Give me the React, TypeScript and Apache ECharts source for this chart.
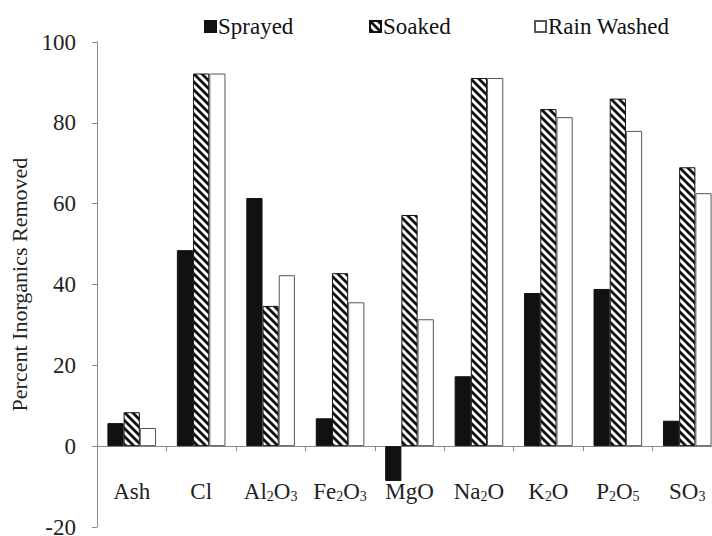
import React, { useEffect, useRef } from "react";
import * as echarts from "echarts";

const categories = ["Ash", "Cl", "Al2O3", "Fe2O3", "MgO", "Na2O", "K2O", "P2O5", "SO3"];
const sprayed = [5.7, 48.5, 61.4, 6.9, -8.6, 17.3, 37.9, 38.9, 6.3];
const soaked = [8.4, 92.2, 34.7, 42.8, 57.2, 91.1, 83.4, 86.0, 69.0];
const rainWashed = [4.5, 92.2, 42.3, 35.6, 31.4, 91.1, 81.4, 78.0, 62.6];
const yTicks = { min: -20, max: 100, interval: 20 };

const FONT = '"Liberation Serif", "Times New Roman", serif';

function makeStripe(): HTMLCanvasElement {
  const c = document.createElement("canvas");
  const p = 8;
  c.width = p;
  c.height = p;
  const ctx = c.getContext("2d")!;
  ctx.fillStyle = "#ffffff";
  ctx.fillRect(0, 0, p, p);
  ctx.strokeStyle = "#111111";
  ctx.lineWidth = 2.8;
  ctx.beginPath();
  ctx.moveTo(-p, 0);
  ctx.lineTo(p, 2 * p);
  ctx.moveTo(-2, -2);
  ctx.lineTo(p + 2, p + 2);
  ctx.moveTo(0, -p);
  ctx.lineTo(2 * p, p);
  ctx.stroke();
  return c;
}

export default function App() {
  const ref = useRef<HTMLDivElement>(null);
  useEffect(() => {
    if (!ref.current) return;
    const chart = echarts.init(ref.current, undefined, { renderer: "svg" });
    const stripe = makeStripe();
    const legendBase = {
      top: 10,
      itemWidth: 11,
      itemHeight: 11,
      itemGap: 0,
      textStyle: { fontFamily: FONT, fontSize: 23, color: "#111", padding: [0, 0, 0, -3] },
      icon: "rect",
    };
    chart.setOption({
      animation: false,
      backgroundColor: "#ffffff",
      legend: [
        { ...legendBase, left: 199, data: ["Sprayed"] },
        { ...legendBase, left: 364, data: ["Soaked"] },
        { ...legendBase, left: 529, data: ["Rain Washed"] },
      ],
      grid: {
        left: 97,
        right: -10,
        top: 42,
        bottom: 9,
        containLabel: false,
        outerBoundsMode: "none",
      },
      xAxis: {
        type: "category",
        data: categories,
        axisLine: { onZero: true, lineStyle: { color: "#8a8a8a", width: 1 } },
        axisTick: { show: true, length: 5, inside: false, lineStyle: { color: "#8a8a8a" } },
        axisLabel: {
          margin: -47,
          interval: 0,
          fontFamily: FONT,
          fontSize: 23,
          color: "#222",
          formatter: (v: string) => v.replace(/(\d)/g, "{sub|$1}"),
          rich: {
            sub: { fontFamily: FONT, fontSize: 14, verticalAlign: "bottom", lineHeight: 12, color: "#222" },
          },
        },
      },
      yAxis: {
        type: "value",
        min: yTicks.min,
        max: yTicks.max,
        interval: yTicks.interval,
        name: "Percent Inorganics Removed",
        nameLocation: "middle",
        nameRotate: 90,
        nameGap: 60,
        nameTextStyle: { fontFamily: FONT, fontSize: 22, color: "#222" },
        axisLine: { show: true, lineStyle: { color: "#8a8a8a", width: 1 } },
        axisTick: { show: true, length: 5, lineStyle: { color: "#8a8a8a" } },
        splitLine: { show: false },
        axisLabel: { margin: 21, fontFamily: FONT, fontSize: 23, lineHeight: 16, color: "#222" },
      },
      series: [
        {
          name: "Sprayed",
          type: "bar",
          data: sprayed,
          barGap: "0%",
          barCategoryGap: "30%",
          itemStyle: { color: "#111111", borderColor: "#111111", borderWidth: 1 },
        },
        {
          name: "Soaked",
          type: "bar",
          data: soaked,
          barGap: "0%",
          barCategoryGap: "30%",
          itemStyle: {
            color: { image: stripe, repeat: "repeat" },
            borderColor: "#111111",
            borderWidth: 1,
          },
        },
        {
          name: "Rain Washed",
          type: "bar",
          data: rainWashed,
          barGap: "0%",
          barCategoryGap: "30%",
          itemStyle: { color: "#ffffff", borderColor: "#555555", borderWidth: 1 },
        },
      ],
    });
    return () => chart.dispose();
  }, []);
  return (
    <div
      ref={ref}
      style={{ position: "fixed", left: 0, top: 0, width: 712, height: 536, overflow: "hidden" }}
    />
  );
}
